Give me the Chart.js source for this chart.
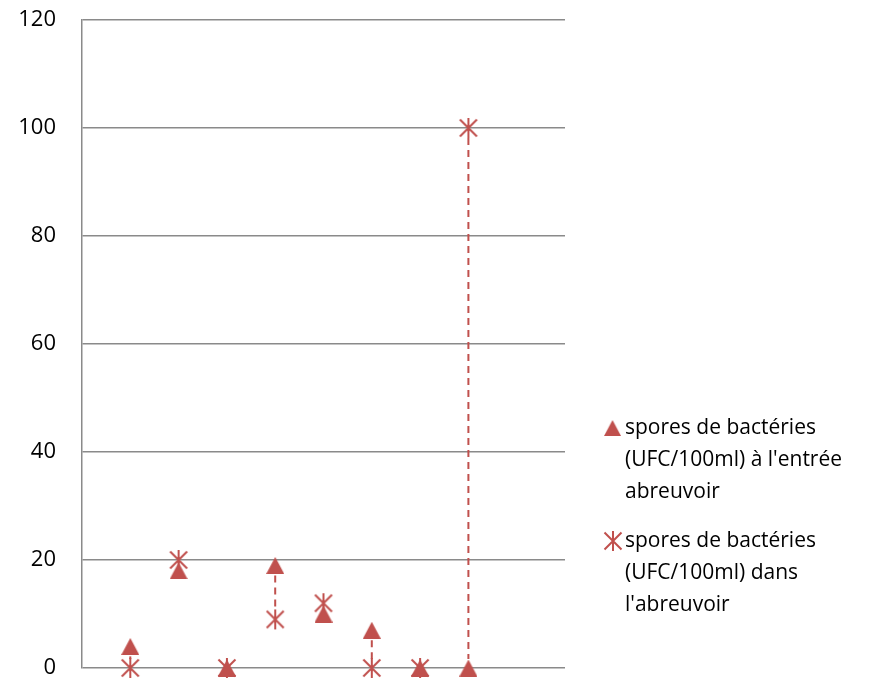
<!DOCTYPE html>
<html>
<head>
<meta charset="utf-8">
<script src="https://cdn.jsdelivr.net/npm/chart.js@4/dist/chart.umd.min.js"></script>
<style>
  html, body { margin: 0; padding: 0; background: #fff; }
  #wrap { width: 890px; height: 683px; }
</style>
</head>
<body>
<div id="wrap"><canvas id="chart"></canvas></div>
<script>
// sample positions along the (unlabelled) x axis
const positions = [1, 2, 3, 4, 5, 6, 7, 8];
const entree = [4, 18, 0, 19, 10, 7, 0, 0];
const dans = [0, 20, 0, 9, 12, 0, 0, 100];
const yTicks = [0, 20, 40, 60, 80, 100, 120];
const legendLines = [
  ['spores de bactéries', "(UFC/100ml) à l'entrée", 'abreuvoir'],
  ['spores de bactéries', '(UFC/100ml) dans', "l'abreuvoir"]
];

const red = '#C0504D';
const font = '"Open Sans", "DejaVu Sans", sans-serif';

// asterisk marker: vertical bar plus an X
function makeAsterisk(size) {
  const c = document.createElement('canvas');
  c.width = size; c.height = size;
  const g = c.getContext('2d');
  const m = size / 2;
  g.strokeStyle = red;
  g.lineWidth = 2;
  g.beginPath();
  g.moveTo(m, 1); g.lineTo(m, size - 1);
  g.moveTo(m - 8.5, m - 8.5); g.lineTo(m + 8.5, m + 8.5);
  g.moveTo(m + 8.5, m - 8.5); g.lineTo(m - 8.5, m + 8.5);
  g.stroke();
  return c;
}

// filled triangle, centred on its bounding box
function makeTriangle(w, h) {
  const c = document.createElement('canvas');
  c.width = w; c.height = h;
  const g = c.getContext('2d');
  g.fillStyle = red;
  g.beginPath();
  g.moveTo(w / 2, 0);
  g.lineTo(w, h);
  g.lineTo(0, h);
  g.closePath();
  g.fill();
  return c;
}

const asterisk = makeAsterisk(22);
const triangle = makeTriangle(18, 17);

// dashed drop lines between the two readings of each sample
const dropLines = {
  id: 'dropLines',
  beforeDatasetsDraw(chart) {
    const { ctx, scales: { x, y } } = chart;
    ctx.save();
    ctx.strokeStyle = red;
    ctx.lineWidth = 2;
    ctx.setLineDash([7, 5]);
    positions.forEach((p, i) => {
      if (entree[i] === dans[i]) return;
      const px = x.getPixelForValue(p);
      const ya = y.getPixelForValue(entree[i]);
      const yb = y.getPixelForValue(dans[i]);
      const top = Math.min(ya, yb) + 10;
      const bot = Math.max(ya, yb) - 9;
      if (bot <= top) return;
      ctx.beginPath();
      ctx.moveTo(px, top);
      ctx.lineTo(px, bot);
      ctx.stroke();
    });
    ctx.restore();
  }
};

// legend on the right, wrapped over three lines per entry
const sideLegend = {
  id: 'sideLegend',
  afterDraw(chart) {
    const ctx = chart.ctx;
    const tx = 625, lh = 32;
    const starts = [428, 541];
    ctx.save();
    ctx.font = '21px ' + font;
    ctx.fillStyle = '#000';
    ctx.textBaseline = 'middle';
    legendLines.forEach((lines, k) => {
      lines.forEach((t, j) => ctx.fillText(t, tx, starts[k] + j * lh));
    });
    ctx.drawImage(triangle, 613 - 9, starts[0] - 8, 17, 16);
    ctx.drawImage(asterisk, 613 - 11, starts[1] - 11);
    ctx.restore();
  }
};

new Chart(document.getElementById('chart'), {
  type: 'scatter',
  data: {
    datasets: [
      {
        label: legendLines[0].join(' '),
        data: positions.map((p, i) => ({ x: p, y: entree[i] })),
        pointStyle: triangle,
        pointRadius: 10,
        pointHoverRadius: 10,
        backgroundColor: red,
        borderColor: red,
        clip: false
      },
      {
        label: legendLines[1].join(' '),
        data: positions.map((p, i) => ({ x: p, y: dans[i] })),
        pointStyle: asterisk,
        pointRadius: 11,
        pointHoverRadius: 11,
        backgroundColor: red,
        borderColor: red,
        clip: false
      }
    ]
  },
  options: {
    responsive: true,
    maintainAspectRatio: false,
    animation: false,
    layout: { padding: { left: 16, right: 325, top: 20, bottom: 15 } },
    plugins: { legend: { display: false }, tooltip: { enabled: false } },
    scales: {
      x: { type: 'linear', min: 0, max: 10, display: false },
      y: {
        min: 0, max: 120,
        afterBuildTicks(axis) { axis.ticks = yTicks.map(v => ({ value: v })); },
        afterFit(axis) {
          axis.width = 66;
          axis.paddingTop = 0;
          axis.paddingBottom = 0;
        },
        grid: { color: '#8a8a8a', lineWidth: 1.5, drawTicks: false },
        border: { color: '#8a8a8a', width: 1.5 },
        ticks: { color: '#000', padding: 26, font: { family: font, size: 22 } }
      }
    }
  },
  plugins: [dropLines, sideLegend]
});
</script>
</body>
</html>
